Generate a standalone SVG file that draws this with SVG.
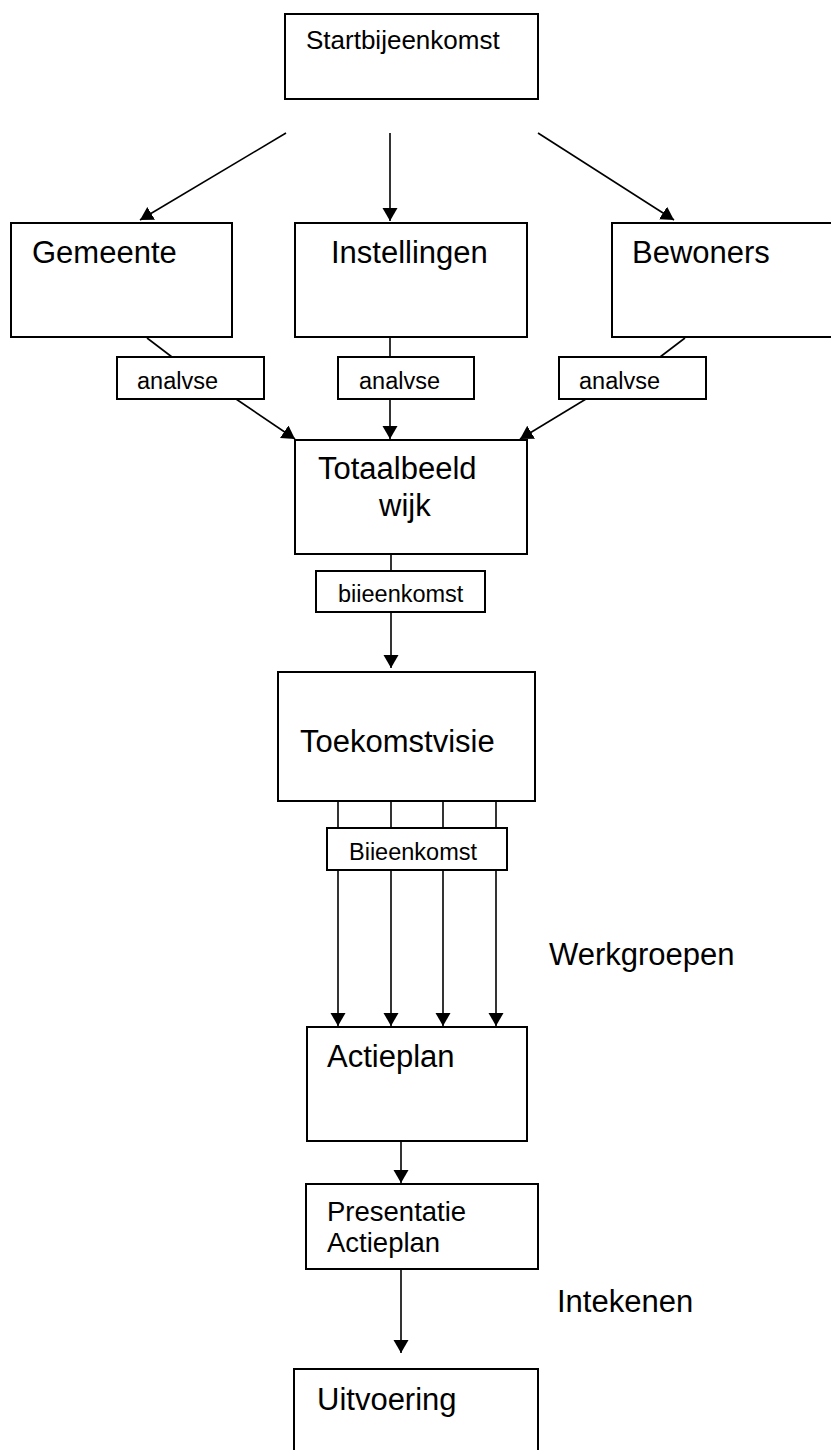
<svg xmlns="http://www.w3.org/2000/svg" width="831" height="1450" viewBox="0 0 831 1450">
<style>
.box{fill:#fff;stroke:#000;stroke-width:2}
.ln{fill:none;stroke:#000;stroke-width:1.6}
.arr{fill:none;stroke:#000;stroke-width:1.6;marker-end:url(#ah)}
text{font-family:"Liberation Sans",Arial,sans-serif;fill:#000}
.t{font-size:31px}
.s{font-size:23.5px}
</style>
<defs>
<marker id="ah" markerUnits="userSpaceOnUse" markerWidth="14" markerHeight="16" refX="13" refY="7.5" orient="auto">
<path d="M0,0 L13,7.5 L0,15 z" fill="#000"/>
</marker>
</defs>
<rect width="831" height="1450" fill="#fff"/>
<g id="connectors">
<line class="arr" x1="286" y1="133" x2="140" y2="220"/>
<line class="arr" x1="390" y1="133" x2="390" y2="221"/>
<line class="arr" x1="538" y1="133" x2="674" y2="220"/>
<line class="ln" x1="147" y1="338" x2="172" y2="357"/>
<line class="ln" x1="390" y1="338" x2="390" y2="357"/>
<line class="ln" x1="685" y1="338" x2="660" y2="357"/>
<line class="arr" x1="236" y1="399" x2="295" y2="439"/>
<line class="arr" x1="390" y1="399" x2="390" y2="439"/>
<line class="arr" x1="586" y1="399" x2="520" y2="439"/>
<line class="ln" x1="391" y1="554" x2="391" y2="571"/>
<line class="arr" x1="391" y1="612" x2="391" y2="668"/>
<line class="ln" x1="338" y1="801" x2="338" y2="828"/>
<line class="ln" x1="391" y1="801" x2="391" y2="828"/>
<line class="ln" x1="443" y1="801" x2="443" y2="828"/>
<line class="ln" x1="496" y1="801" x2="496" y2="828"/>
<line class="arr" x1="338" y1="870" x2="338" y2="1026"/>
<line class="arr" x1="391" y1="870" x2="391" y2="1026"/>
<line class="arr" x1="443" y1="870" x2="443" y2="1026"/>
<line class="arr" x1="496" y1="870" x2="496" y2="1026"/>
<line class="arr" x1="401" y1="1141" x2="401" y2="1183"/>
<line class="arr" x1="401" y1="1269" x2="401" y2="1353"/>
</g>
<g id="startbijeenkomst">
<rect class="box" x="285" y="14" width="253" height="85"/>
<text x="306" y="49" style="font-size:26px">Startbijeenkomst</text>
</g>
<g id="gemeente">
<rect class="box" x="11" y="223" width="221" height="114"/>
<text class="t" x="32" y="263">Gemeente</text>
</g>
<g id="instellingen">
<rect class="box" x="295" y="223" width="232" height="114"/>
<text class="t" x="331" y="263">Instellingen</text>
</g>
<g id="bewoners">
<rect class="box" x="612" y="223" width="230" height="114"/>
<text class="t" x="632" y="263">Bewoners</text>
</g>
<g id="analyse1">
<rect class="box" x="117" y="357" width="147" height="42"/>
<text class="s" x="137" y="389">analvse</text>
</g>
<g id="analyse2">
<rect class="box" x="338" y="357" width="136" height="42"/>
<text class="s" x="359" y="389">analvse</text>
</g>
<g id="analyse3">
<rect class="box" x="559" y="357" width="147" height="42"/>
<text class="s" x="579" y="389">analvse</text>
</g>
<g id="totaalbeeld">
<rect class="box" x="295" y="440" width="232" height="114"/>
<text class="t" x="318" y="479">Totaalbeeld</text>
<text class="t" x="379" y="516">wijk</text>
</g>
<g id="bijeenkomst1">
<rect class="box" x="316" y="571" width="169" height="41"/>
<text class="s" x="338" y="602">biieenkomst</text>
</g>
<g id="toekomstvisie">
<rect class="box" x="278" y="672" width="257" height="129"/>
<text class="t" x="300" y="752">Toekomstvisie</text>
</g>
<g id="bijeenkomst2">
<rect class="box" x="327" y="828" width="180" height="42"/>
<text class="s" x="349" y="860">Biieenkomst</text>
</g>
<g id="werkgroepen">
<text class="t" x="549" y="965">Werkgroepen</text>
</g>
<g id="actieplan">
<rect class="box" x="307" y="1027" width="220" height="114"/>
<text class="t" x="327" y="1067">Actieplan</text>
</g>
<g id="presentatie">
<rect class="box" x="306" y="1184" width="232" height="85"/>
<text x="327" y="1221" style="font-size:27.5px">Presentatie</text>
<text x="327" y="1252" style="font-size:27.5px">Actieplan</text>
</g>
<g id="intekenen">
<text class="t" x="557" y="1312">Intekenen</text>
</g>
<g id="uitvoering">
<rect class="box" x="294" y="1369" width="244" height="100"/>
<text class="t" x="317" y="1410">Uitvoering</text>
</g>
</svg>
